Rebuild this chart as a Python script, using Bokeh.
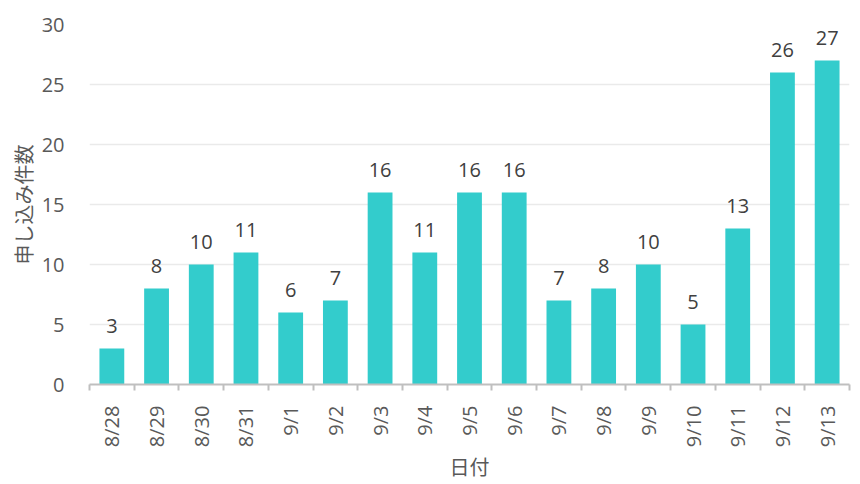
import math
from bokeh.plotting import figure
from bokeh.models import ColumnDataSource, FixedTicker, Range1d
from bokeh.core.properties import value
from bokeh.embed import file_html
from bokeh.resources import INLINE

dates = ["8/28", "8/29", "8/30", "8/31", "9/1", "9/2", "9/3", "9/4", "9/5",
         "9/6", "9/7", "9/8", "9/9", "9/10", "9/11", "9/12", "9/13"]
counts = [3, 8, 10, 11, 6, 7, 16, 11, 16, 16, 7, 8, 10, 5, 13, 26, 27]
y_ticks = [0, 5, 10, 15, 20, 25, 30]
x_title = "日付"
y_title = "申し込み件数"

xs = list(range(len(dates)))
src = ColumnDataSource(dict(x=xs, y=counts, label=[str(c) for c in counts]))

p = figure(frame_width=760, frame_height=360, output_backend="svg",
           toolbar_location=None,
           x_range=Range1d(-0.5, len(dates) - 0.5), y_range=Range1d(0, 30),
           min_border_left=89, min_border_top=24, min_border_right=3,
           min_border_bottom=10)
p.outline_line_color = None
p.background_fill_color = "white"
p.border_fill_color = "white"

p.vbar(x="x", top="y", width=0.555, source=src, fill_color="#33CCCC",
       line_color=None)
p.text(x="x", y="y", text="label", source=src, text_align="center",
       text_baseline="bottom", y_offset=-16, text_font=value("Open Sans"),
       text_font_size="20px", text_color="#404040")

# y axis
p.yaxis.ticker = FixedTicker(ticks=y_ticks)
p.yaxis.axis_line_color = None
p.yaxis.major_tick_line_color = None
p.yaxis.minor_tick_line_color = None
p.yaxis.major_label_text_font = "Open Sans"
p.yaxis.major_label_text_font_size = "20px"
p.yaxis.major_label_text_color = "#595959"
p.yaxis.major_label_standoff = 19
p.yaxis.axis_label = y_title
p.yaxis.axis_label_text_font = "Noto Sans CJK JP"
p.yaxis.axis_label_text_font_size = "20px"
p.yaxis.axis_label_text_font_style = "normal"
p.yaxis.axis_label_text_color = "#595959"
p.yaxis.axis_label_standoff = 1
p.ygrid.ticker = FixedTicker(ticks=y_ticks)
p.ygrid.grid_line_color = "#EAEAEA"
p.ygrid.grid_line_width = 1.5
p.xgrid.grid_line_color = None

# x axis
p.xaxis.ticker = FixedTicker(ticks=xs, minor_ticks=[i - 0.5 for i in range(len(dates) + 1)])
p.xaxis.major_label_overrides = {i: d for i, d in enumerate(dates)}
p.xaxis.major_label_orientation = math.pi / 2
p.xaxis.major_tick_line_color = None
p.xaxis.major_tick_out = 0
p.xaxis.major_tick_in = 0
p.xaxis.minor_tick_line_color = "#BFBFBF"
p.xaxis.minor_tick_line_width = 2
p.xaxis.minor_tick_out = 6
p.xaxis.minor_tick_in = 0
p.xaxis.axis_line_color = "#BFBFBF"
p.xaxis.axis_line_width = 2
p.xaxis.major_label_standoff = 15
p.xaxis.major_label_text_font = "Open Sans"
p.xaxis.major_label_text_font_size = "20px"
p.xaxis.major_label_text_color = "#595959"
p.xaxis.axis_label = x_title
p.xaxis.axis_label_text_font = "Noto Sans CJK JP"
p.xaxis.axis_label_text_font_size = "20px"
p.xaxis.axis_label_text_font_style = "normal"
p.xaxis.axis_label_text_color = "#595959"
p.xaxis.axis_label_standoff = 2

open("out.html", "w").write(file_html(p, INLINE))
